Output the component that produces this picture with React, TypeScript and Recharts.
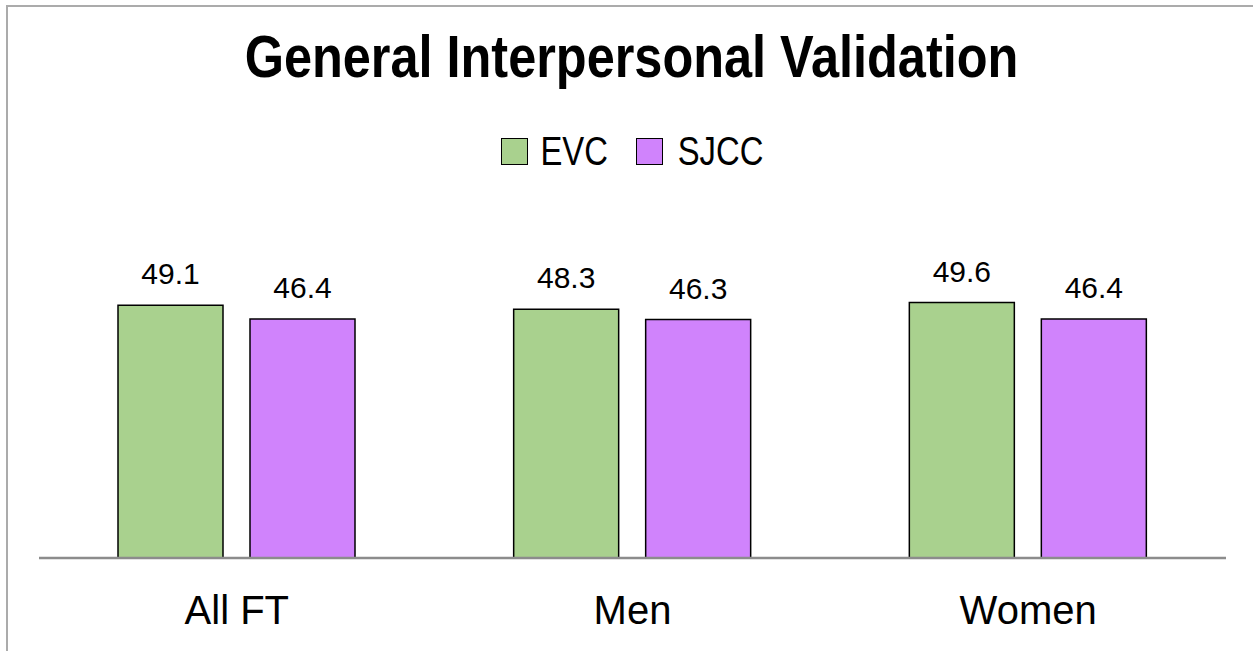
import React from "react";
import { BarChart, Bar, XAxis, YAxis, LabelList } from "recharts";

const categories = ["All FT", "Men", "Women"];
const evcValues = [49.1, 48.3, 49.6];
const sjccValues = [46.4, 46.3, 46.4];

const data = categories.map((name, i) => ({ name, evc: evcValues[i], sjcc: sjccValues[i] }));

const REGULAR = "'Liberation Sans', Arial, sans-serif";

const legendItems = [
  { label: "EVC", color: "#a9d18e" },
  { label: "SJCC", color: "#d083fc" },
];

// legend with black-outlined squares, narrow text like the Office original
const LegendBox = () => (
  <div style={{ position: "absolute", left: 0, top: 131, width: 1275, display: "flex", justifyContent: "center", alignItems: "center", fontFamily: REGULAR, fontSize: 41, lineHeight: "40px", color: "#000" }}>
    {legendItems.map((it, i) => (
      <div key={it.label} style={{ display: "flex", alignItems: "center", marginLeft: i ? 20 : 0 }}>
        <span style={{ width: 25, height: 25, background: it.color, border: "1.5px solid #000", marginRight: 4, display: "inline-block" }} />
        <span style={{ display: "inline-block", transform: "scaleX(0.8)", transformOrigin: "center" }}>{it.label}</span>
      </div>
    ))}
  </div>
);

export default function App() {
  return (
    <div style={{ position: "absolute", left: 0, top: 0, width: 1253, height: 651, background: "#fff", overflow: "hidden" }}>
      <div style={{ position: "absolute", left: 6, top: 5, width: 1300, height: 700, border: "2px solid #ababab", boxSizing: "border-box" }} />
      <div style={{ position: "absolute", left: 0, top: 27, width: 1263, textAlign: "center", fontFamily: REGULAR, fontWeight: "bold", fontSize: 59, lineHeight: "60px", color: "#000", transform: "scaleX(0.855)", transformOrigin: "center" }}>
        General Interpersonal Validation
      </div>
      <LegendBox />
      <div style={{ position: "absolute", left: 0, top: 0 }}>
        <BarChart width={1253} height={651} data={data} margin={{ top: 249, right: 27, bottom: 0, left: 39 }} barGap={27} barSize={105}>
          <XAxis
            dataKey="name"
            height={93}
            tickLine={false}
            tickSize={0}
            tickMargin={38}
            axisLine={{ stroke: "#8c8c8c", strokeWidth: 2.5 }}
            tick={{ fill: "#000", fontSize: 40, fontFamily: REGULAR }}
          />
          <YAxis hide domain={[0, 60]} />
          <Bar dataKey="evc" name="EVC" fill="#a9d18e" stroke="#000" strokeWidth={1.5} isAnimationActive={false}>
            <LabelList dataKey="evc" position="top" offset={21} style={{ fill: "#000", fontSize: 30, fontFamily: REGULAR }} />
          </Bar>
          <Bar dataKey="sjcc" name="SJCC" fill="#d083fc" stroke="#000" strokeWidth={1.5} isAnimationActive={false}>
            <LabelList dataKey="sjcc" position="top" offset={21} style={{ fill: "#000", fontSize: 30, fontFamily: REGULAR }} />
          </Bar>
        </BarChart>
      </div>
    </div>
  );
}
